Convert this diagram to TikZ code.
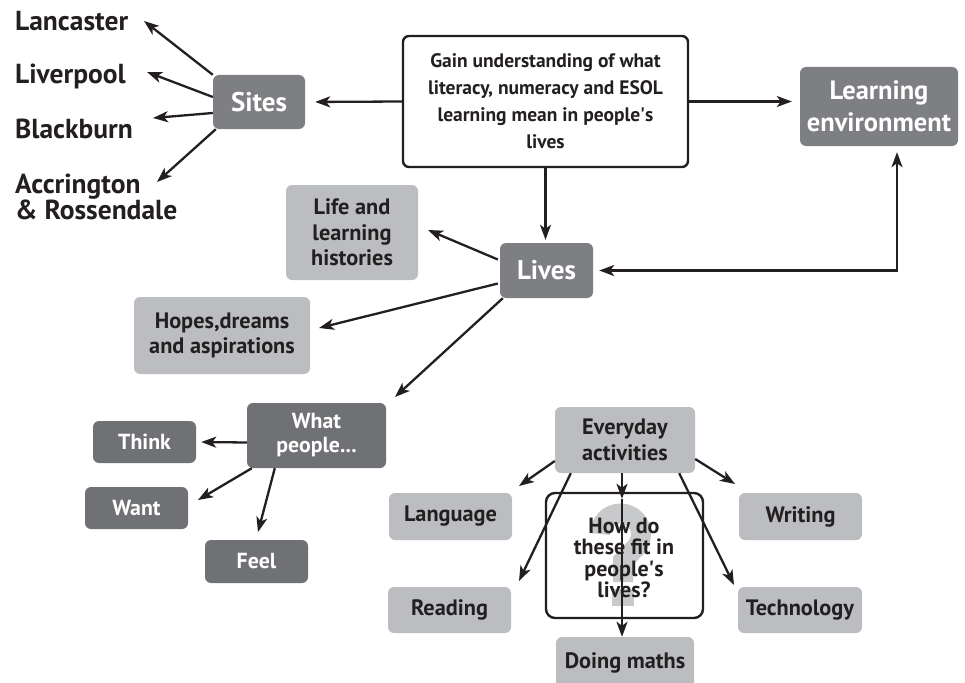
\documentclass[tikz,border=0pt]{standalone}
\usepackage{fontspec}
\setmainfont{PT Sans}
\usetikzlibrary{arrows.meta,calc}
\definecolor{darkbox}{HTML}{7E7F82}
\definecolor{darkerbox}{HTML}{707174}
\definecolor{lightbox}{HTML}{BCBDC0}
\definecolor{qgray}{HTML}{C8C9CB}
\definecolor{ink}{HTML}{231F20}
\tikzset{
  arr/.style={draw=ink, line width=2.3pt, -{Stealth[length=15pt,width=11pt,inset=4pt]}},
  arrb/.style={draw=ink, line width=2.3pt, {Stealth[length=15pt,width=11pt,inset=4pt]}-{Stealth[length=15pt,width=11pt,inset=4pt]}},
  basebox/.style={rounded corners=6pt, inner sep=0pt, align=center, font=\bfseries},
  dbox/.style={basebox, fill=darkbox, text=white},
  ddbox/.style={basebox, fill=darkerbox, text=white, font=\bfseries\fontsize{21.8}{24}\selectfont},
  lbox/.style={basebox, fill=lightbox, text=ink, font=\bfseries\fontsize{22.3}{25.5}\selectfont},
  sitelabel/.style={inner sep=0pt, align=left, text=ink, font=\bfseries\fontsize{27.5}{26.5}\selectfont},
  qmarkstroke/.style={draw=qgray, line width=20pt},
}
\begin{document}
\begin{tikzpicture}[x=1pt,y=-1pt]
\useasboundingbox (0,0) rectangle (965,682);

% main nodes
\node[basebox, draw=ink, line width=2.4pt, fill=white, text=ink, minimum width=285pt, minimum height=131pt,
  font=\bfseries\fontsize{19.5}{27}\selectfont] (gain) at (545.5,101.5)
  {Gain understanding of what\\literacy, numeracy and ESOL\\learning mean in people\textquotesingle s\\lives};
\node[dbox, minimum width=92pt, minimum height=54pt, font=\bfseries\fontsize{27}{30}\selectfont] (sites) at (259,102) {Sites};
\node[dbox, minimum width=158pt, minimum height=79pt, font=\bfseries\fontsize{26.5}{32}\selectfont] (le) at (879,106.5) {Learning\\environment};
\node[dbox, minimum width=93pt, minimum height=55pt, font=\bfseries\fontsize{27}{30}\selectfont] (lives) at (546.5,270.5) {Lives};

% site labels
\node[sitelabel, anchor=base west] (lan) at (15,31) {Lancaster};
\node[sitelabel, anchor=base west] (liv) at (15,84) {Liverpool};
\node[sitelabel, anchor=base west] (bla) at (15,138) {Blackburn};
\node[sitelabel, anchor=west] (acc) at (15,197) {Accrington\\\& Rossendale};

% lives branches
\node[lbox, minimum width=132pt, minimum height=95pt] (life) at (352,232.5) {Life and\\learning\\histories};
\node[lbox, minimum width=176pt, minimum height=77pt] (hope) at (222,335.5) {Hopes,dreams\\and aspirations};
\node[ddbox, minimum width=139pt, minimum height=65pt] (what) at (316.5,435.5) {What\\people...};
\node[ddbox, minimum width=103pt, minimum height=42pt] (think) at (144.5,442) {Think};
\node[ddbox, minimum width=103pt, minimum height=42pt] (want) at (136.5,508) {Want};
\node[ddbox, minimum width=103pt, minimum height=43pt] (feel) at (256.5,561.5) {Feel};

% everyday activities
\node[lbox, minimum width=140pt, minimum height=66pt] (every) at (625,440) {Everyday\\activities};
\node[lbox, minimum width=123pt, minimum height=47pt] (lang) at (450.5,516.5) {Language};
\node[lbox, minimum width=123pt, minimum height=47pt] (writ) at (800.5,516.5) {Writing};
\node[lbox, minimum width=123pt, minimum height=46pt] (read) at (449.5,610) {Reading};
\node[lbox, minimum width=124pt, minimum height=46pt] (tech) at (800,610) {Technology};
\node[lbox, minimum width=138pt, minimum height=52pt] (maths) at (625,663) {Doing maths};

% question box with large grey question mark
\node[draw=ink, line width=2.4pt, fill=white, rounded corners=9pt, minimum width=157pt, minimum height=125pt, inner sep=0pt] (q) at (624.5,555.5) {};
\draw[qmarkstroke] (600,534) arc[start angle=180, end angle=400, radius=20.5] -- (623,561) -- (623,582);
\fill[qgray] (612,589) rectangle (634,606);

% connectors
\draw[arr, shorten >=10pt] (gain.west) -- (sites.east);
\draw[arr, shorten >=8pt] (gain.east) -- (gain.east -| le.west);
\draw[arr, shorten >=3pt] (gain.south) -- (gain.south |- lives.north);
\coordinate (leb) at ($(le.south)+(18,0)$);
\draw[arrb, shorten <=6pt, shorten >=6pt] (lives.east) -| (leb);

\coordinate (tLan) at (144,21);
\coordinate (tLiv) at (147,72);
\coordinate (tBla) at (153,118);
\coordinate (tAcc) at (157,182);
\draw[arr] (sites.north west) -- (tLan);
\draw[arr] ($(sites.west)+(0,-5)$) -- (tLiv);
\draw[arr] ($(sites.west)+(0,11)$) -- (tBla);
\draw[arr] ($(sites.south west)+(3,0)$) -- (tAcc);

\coordinate (tLife) at (428,230);
\coordinate (tHope) at (319,328);
\coordinate (tWhat) at (395,397);
\draw[arr] ($(lives.west)+(-2,-11)$) -- (tLife);
\draw[arr] ($(lives.west)+(-2,13)$) -- (tHope);
\draw[arr] ($(lives.south west)+(3,0)$) -- (tWhat);

\draw[arr] ($(what.west)+(0,7)$) -- ($(think.east)+(5,0)$);
\coordinate (tWant) at (198,500);
\coordinate (tFeel) at (258,532);
\draw[arr] ($(what.south west)+(5,0)$) -- (tWant);
\draw[arr] ($(what.south west)+(28,0)$) -- (tFeel);

\coordinate (tLang) at (519,486);
\coordinate (tWrit) at (735,484);
\coordinate (tRead) at (519,581);
\coordinate (tTech) at (734,585);
\draw[arr] ($(every.west)+(0,21)$) -- (tLang);
\draw[arr] ($(every.east)+(0,19)$) -- (tWrit);
\draw[arr] ($(every.south west)+(16,0)$) -- (tRead);
\draw[arr] ($(every.south east)+(-16,0)$) -- (tTech);
\coordinate (dl) at ($(every.south)+(-3,0)$);
\coordinate (qin) at ($(dl |- q.north)+(0,7)$);
\draw[arr] (dl) -- (qin);
\draw[arr] (qin) -- (dl |- maths.north);

\node[inner sep=0pt, align=center, text=ink, font=\bfseries\fontsize{22}{21.3}\selectfont] (qt) at (624,558)
  {How do\\these fit in\\people\textquotesingle s\\lives?};
\end{tikzpicture}
\end{document}
